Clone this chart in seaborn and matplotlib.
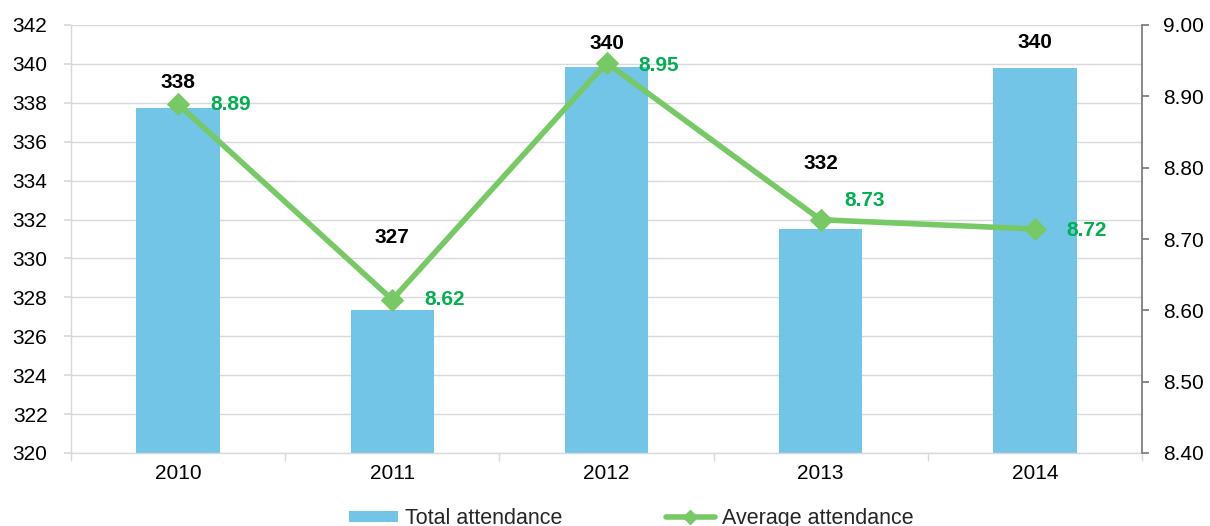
import matplotlib
matplotlib.use('Agg')
import matplotlib.pyplot as plt
from matplotlib.patches import Patch
from matplotlib.lines import Line2D
import pandas as pd
import seaborn as sns

years = ['2010', '2011', '2012', '2013', '2014']
total_attendance = [337.75, 327.35, 339.85, 331.5, 339.8]
total_labels = ['338', '327', '340', '332', '340']
avg_attendance = [8.889, 8.615, 8.947, 8.727, 8.714]
avg_labels = ['8.89', '8.62', '8.95', '8.73', '8.72']

# label offsets in points (Excel had them hand-placed)
total_label_dy = [18, 52, 17, 47, 18]
avg_label_dx = [23, 23, 23, 17, 23]
avg_label_dy = [0, 0, -2, 14, -1]

BAR_COLOR = '#72C5E6'
LINE_COLOR = '#77C966'
LABEL_GREEN = '#00B050'
GRID = '#D9D9D9'
FS = 15

sns.set_theme(style="white")
plt.rcParams['font.family'] = ['Liberation Sans', 'DejaVu Sans']

df = pd.DataFrame({'year': years, 'total': total_attendance, 'avg': avg_attendance})

fig = plt.figure(figsize=(12.1, 5.26), dpi=100)
ax = fig.add_axes([71/1210, 1 - 453/526, (1142 - 71)/1210, (453 - 25)/526])

sns.barplot(data=df, x='year', y='total', color=BAR_COLOR, width=0.39,
            saturation=1, linewidth=0, ax=ax, zorder=2)
ax.set_ylim(320, 342)
ax.set_yticks(range(320, 343, 2))
ax.set_xlim(-0.5, len(years) - 0.5)
ax.set_xlabel('')
ax.set_ylabel('')
ax.grid(axis='y', color=GRID, linewidth=1, zorder=0)
ax.set_axisbelow(True)
for side in ['top', 'right']:
    ax.spines[side].set_visible(False)
for side in ['left', 'bottom']:
    ax.spines[side].set_color(GRID)
    ax.spines[side].set_linewidth(1)
ax.tick_params(axis='y', left=True, length=5, color=GRID, labelsize=FS, pad=12, labelcolor='black')
ax.tick_params(axis='x', which='major', length=0, labelsize=FS, pad=8, labelcolor='black')
ax.set_xticks([i - 0.5 for i in range(len(years) + 1)], minor=True)
ax.tick_params(axis='x', which='minor', bottom=True, length=6, color=GRID, width=1)

for i, (v, lab, dy) in enumerate(zip(total_attendance, total_labels, total_label_dy)):
    ax.annotate(lab, (i, v), xytext=(0, dy), textcoords='offset points',
                ha='center', va='center', fontsize=FS, fontweight='bold', color='black')

ax2 = ax.twinx()
sns.lineplot(data=df, x='year', y='avg', color=LINE_COLOR, linewidth=4,
             marker='D', markersize=11, markeredgecolor=LINE_COLOR, ax=ax2, zorder=3)
ax2.set_ylim(8.40, 9.00)
ax2.set_yticks([8.40, 8.50, 8.60, 8.70, 8.80, 8.90, 9.00])
ax2.set_yticklabels([f'{t:.2f}' for t in ax2.get_yticks()])
ax2.set_ylabel('')
ax2.set_xlabel('')
ax2.grid(False)
for side in ['top', 'left', 'bottom']:
    ax2.spines[side].set_visible(False)
ax2.spines['right'].set_color('#808080')
ax2.spines['right'].set_linewidth(1.3)
ax2.tick_params(axis='y', right=True, length=5, color='#808080', width=1.3,
                labelsize=FS, pad=10, labelcolor='black')

for i, (v, lab, dx, dy) in enumerate(zip(avg_attendance, avg_labels, avg_label_dx, avg_label_dy)):
    ax2.annotate(lab, (i, v), xytext=(dx, dy), textcoords='offset points',
                 ha='left', va='center', fontsize=FS, fontweight='bold', color=LABEL_GREEN)

handles = [Patch(facecolor=BAR_COLOR, edgecolor='none', label='Total attendance'),
           Line2D([0], [0], color=LINE_COLOR, linewidth=4, marker='D', markersize=7,
                  label='Average attendance')]
fig.legend(handles=handles, loc='center', bbox_to_anchor=(0.5215, 0.014), ncol=2,
           frameon=False, fontsize=15.5, handlelength=2.3, handleheight=0.45,
           handletextpad=0.3, columnspacing=4.8)

fig.savefig('out.png', dpi=100)
